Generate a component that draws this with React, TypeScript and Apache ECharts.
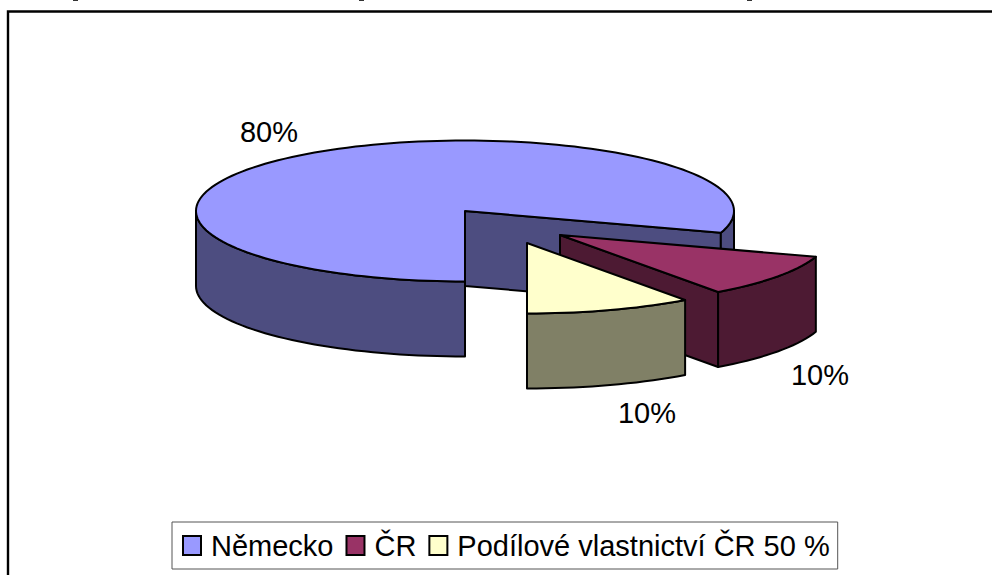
import React, { useEffect, useRef } from "react";
import * as echarts from "echarts";

const categories = ["Německo", "ČR", "Podílové vlastnictví ČR 50 %"];
const shares = [80, 10, 10];
const topColors = ["#9999FF", "#993366", "#FFFFCC"];
const sideColors = ["#4D4D80", "#4D1A33", "#808066"];

const CENTER = [465, 211];
const RX = 269;
const RY = 70.5;
const DEPTH = 75;
const START_DEG = 90;
const EXPLODE = [[0, 0], [95, 24], [62, 32]];
const LABEL_POS = [[269, 132], [820, 375], [647, 413]];
const FONT = "'Liberation Sans', Arial, sans-serif";
const TITLE_SPECKS = [75, 361, 749];

const total = shares.reduce((a, b) => a + b, 0);
const rad = (d: number) => (d * Math.PI) / 180;

function arcPoints(cx: number, cy: number, a0: number, a1: number) {
  const pts: number[][] = [];
  const n = Math.max(2, Math.ceil(Math.abs(a1 - a0) / 2));
  for (let i = 0; i <= n; i++) {
    const a = rad(a0 + ((a1 - a0) * i) / n);
    pts.push([cx + RX * Math.cos(a), cy + RY * Math.sin(a)]);
  }
  return pts;
}

function sliceChildren(index: number) {
  const before = shares.slice(0, index).reduce((a, b) => a + b, 0);
  const a0 = START_DEG + (before / total) * 360;
  const a1 = a0 + (shares[index] / total) * 360;
  const cx = CENTER[0] + EXPLODE[index][0];
  const cy = CENTER[1] + EXPLODE[index][1];
  const line = { stroke: "#000", lineWidth: 2, lineJoin: "round" };
  const side = { ...line, fill: sideColors[index] };
  const top = { ...line, fill: topColors[index] };
  const children: any[] = [];
  const wall = (a: number) => {
    const x = cx + RX * Math.cos(rad(a));
    const y = cy + RY * Math.sin(rad(a));
    children.push({
      type: "polygon",
      shape: { points: [[cx, cy], [x, y], [x, y + DEPTH], [cx, cy + DEPTH]] },
      style: side,
    });
  };
  if (Math.cos(rad(a1)) > 1e-6) wall(a1);
  if (Math.cos(rad(a0)) < -1e-6) wall(a0);
  // visible rim: the parts of the arc on the front half of the ellipse
  for (let k = 0; k <= 1; k++) {
    const lo = Math.max(a0, k * 360);
    const hi = Math.min(a1, k * 360 + 180);
    if (hi > lo) {
      const upper = arcPoints(cx, cy, lo, hi);
      const lower = upper.map((p) => [p[0], p[1] + DEPTH]).reverse();
      children.push({ type: "polygon", shape: { points: [...upper, ...lower] }, style: side });
    }
  }
  children.push({
    type: "polygon",
    shape: { points: [[cx, cy], ...arcPoints(cx, cy, a0, a1)] },
    style: top,
  });
  children.push({
    type: "text",
    style: {
      text: `${shares[index]}%`,
      x: LABEL_POS[index][0],
      y: LABEL_POS[index][1],
      align: "center",
      verticalAlign: "middle",
      font: `29px ${FONT}`,
      fill: "#000",
    },
  });
  return children;
}

export default function App() {
  const ref = useRef<HTMLDivElement>(null);
  useEffect(() => {
    document.body.style.margin = "0";
    const chart = echarts.init(ref.current!, undefined, { renderer: "svg" });
    chart.setOption({
      animation: false,
      backgroundColor: "#fff",
      legend: {
        data: categories,
        left: 172,
        top: 522,
        orient: "horizontal",
        itemWidth: 18,
        itemHeight: 19,
        itemGap: 12,
        padding: [9, 8, 9, 10],
        icon: "rect",
        backgroundColor: "#fff",
        borderColor: "#555",
        borderWidth: 1,
        selectedMode: false,
        itemStyle: { borderColor: "#000", borderWidth: 2 },
        textStyle: { fontFamily: FONT, fontSize: 29, color: "#000", padding: [2, 0, 0, 5] },
      },
      graphic: [
        {
          type: "polyline",
          silent: true,
          shape: { points: [[8, 575], [8, 11.5], [992, 11.5]] },
          style: { stroke: "#000", lineWidth: 2.4, fill: "none" },
        },
        ...TITLE_SPECKS.map((x) => ({
          type: "rect",
          silent: true,
          shape: { x: x - 2, y: 0, width: 5, height: 1 },
          style: { fill: "#333" },
        })),
      ],
      series: categories.map((name, i) => ({
        type: "custom",
        name,
        coordinateSystem: "none",
        data: [[shares[i]]],
        itemStyle: { color: topColors[i] },
        renderItem: () => ({ type: "group", children: sliceChildren(i) }),
        z: 2,
      })),
    });
    return () => chart.dispose();
  }, []);
  return <div ref={ref} style={{ width: 992, height: 575 }} />;
}
